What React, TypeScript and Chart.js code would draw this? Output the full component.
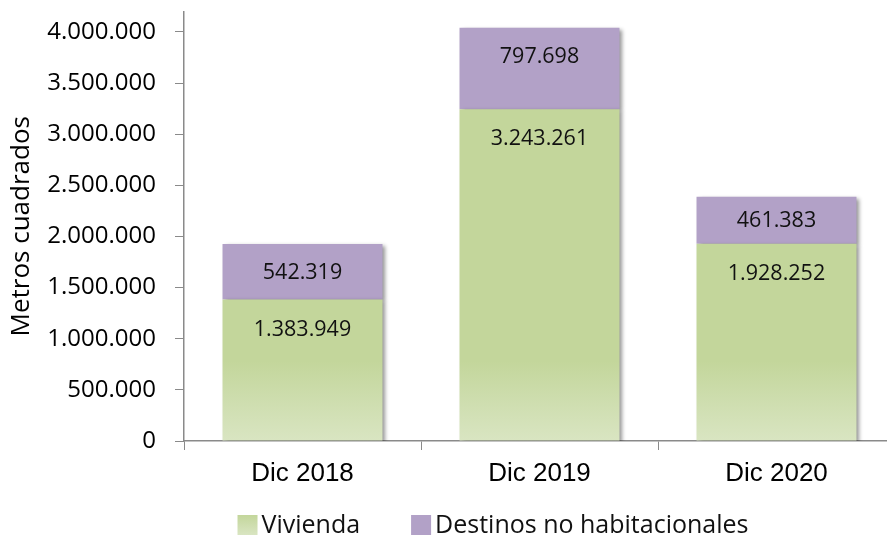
import React, { useEffect, useRef } from "react";
import { Chart, registerables } from "chart.js";

Chart.register(...registerables);

const categories = ["Dic 2018", "Dic 2019", "Dic 2020"];
const viviendaValues = [1383949, 3243261, 1928252];
const noHabitacionalesValues = [542319, 797698, 461383];
const seriesNames = ["Vivienda", "Destinos no habitacionales"];
const yAxisTitle = "Metros cuadrados";
const yMax = 4200000;
const yStep = 500000;
const yTickMax = 4000000;

const GREEN = "#c3d69b";
const GREEN_LIGHT = "#d9e5c2";
const PURPLE = "#b2a1c7";
const AXIS = "#8a8a8a";

const fmt = (v: number) =>
  String(Math.round(v)).replace(/\B(?=(\d{3})+(?!\d))/g, ".");

function greenGradient(chart: any) {
  const area = chart.chartArea;
  if (!area) return GREEN;
  const g = chart.ctx.createLinearGradient(0, area.bottom - 80, 0, area.bottom);
  g.addColorStop(0, GREEN);
  g.addColorStop(1, GREEN_LIGHT);
  return g;
}

const barPlugin = {
  id: "barDecor",
  beforeDatasetsDraw(chart: any) {
    const ctx = chart.ctx;
    ctx.save();
    ctx.shadowColor = "rgba(0,0,0,0.42)";
    ctx.shadowBlur = 4;
    ctx.shadowOffsetX = 3;
    ctx.shadowOffsetY = 2;
  },
  afterDatasetsDraw(chart: any) {
    const ctx = chart.ctx;
    ctx.restore();
    ctx.save();
    ctx.font = '21.5px "Open Sans"';
    ctx.fillStyle = "#111";
    ctx.textAlign = "center";
    ctx.textBaseline = "middle";
    chart.data.datasets.forEach((ds: any, di: number) => {
      const meta = chart.getDatasetMeta(di);
      meta.data.forEach((el: any, i: number) => {
        const { x, y, base } = el.getProps(["x", "y", "base"], true);
        const h = base - y;
        const cy = di === 0 ? y + 30 : y + Math.min(29, h / 2 + 1);
        ctx.fillText(fmt(ds.data[i]), x, cy);
      });
    });
    ctx.restore();
  },
  afterDraw(chart: any) {
    const ctx = chart.ctx;
    ctx.save();
    ctx.font = '25px "Open Sans"';
    ctx.textBaseline = "middle";
    ctx.textAlign = "left";
    const box = 20;
    const gapText = 4;
    const gapItem = 51;
    const items = chart.data.datasets.map((ds: any) => ({
      label: ds.label,
      w: ctx.measureText(ds.label).width,
    }));
    let total = 0;
    items.forEach((it: any, i: number) => {
      total += box + gapText + it.w + (i < items.length - 1 ? gapItem : 0);
    });
    let x = 493 - total / 2;
    const cy = 525;
    items.forEach((it: any, i: number) => {
      if (i === 0) {
        const g = ctx.createLinearGradient(0, cy - box / 2, 0, cy + box / 2);
        g.addColorStop(0, GREEN);
        g.addColorStop(1, GREEN_LIGHT);
        ctx.fillStyle = g;
      } else {
        ctx.fillStyle = PURPLE;
      }
      ctx.fillRect(x, cy - box / 2, box, box);
      ctx.fillStyle = "#111";
      ctx.fillText(it.label, x + box + gapText, cy + 1);
      x += box + gapText + it.w + gapItem;
    });
    ctx.restore();
  },
};

export default function App() {
  const ref = useRef<HTMLCanvasElement>(null);

  useEffect(() => {
    if (!ref.current) return;
    const chart = new Chart(ref.current, {
      type: "bar",
      data: {
        labels: categories,
        datasets: [
          {
            label: seriesNames[0],
            data: viviendaValues,
            backgroundColor: (c: any) => greenGradient(c.chart),
            borderWidth: 0,
            barPercentage: 0.9,
            categoryPercentage: 0.75,
          },
          {
            label: seriesNames[1],
            data: noHabitacionalesValues,
            backgroundColor: PURPLE,
            borderWidth: 0,
            barPercentage: 0.9,
            categoryPercentage: 0.75,
          },
        ],
      },
      options: {
        animation: false,
        responsive: false,
        maintainAspectRatio: false,
        layout: { padding: { top: 11.5, right: 5, left: 0, bottom: 0 } },
        plugins: {
          legend: { display: false },
          tooltip: { enabled: false },
          title: { display: false },
        },
        scales: {
          x: {
            stacked: true,
            offset: true,
            grid: {
              display: true,
              drawOnChartArea: false,
              drawTicks: true,
              tickLength: 9,
              offset: true,
              color: AXIS,
              lineWidth: 1,
            },
            border: { display: true, color: AXIS, width: 1.5 },
            ticks: {
              color: "#000",
              font: { family: '"Liberation Sans"', size: 26 },
              padding: 8,
              maxRotation: 0,
            },
            afterFit: (scale: any) => {
              scale.height = 101;
              scale.paddingLeft = 0;
              scale.paddingRight = 0;
            },
          },
          y: {
            stacked: true,
            min: 0,
            max: yMax,
            grid: {
              display: true,
              drawOnChartArea: false,
              drawTicks: true,
              tickLength: 9,
              color: AXIS,
              lineWidth: 1,
            },
            border: { display: true, color: AXIS, width: 1.5 },
            ticks: {
              autoSkip: false,
              color: "#000",
              font: { family: '"Open Sans"', size: 24 },
              padding: 19,
              callback: (v: any) => fmt(Number(v)),
            },
            afterBuildTicks: (scale: any) => {
              const t: any[] = [];
              for (let v = 0; v <= yTickMax; v += yStep) t.push({ value: v });
              scale.ticks = t;
            },
            title: {
              display: true,
              text: yAxisTitle,
              color: "#000",
              font: { family: '"Open Sans"', size: 26 },
              padding: { top: 6, bottom: 0 },
            },
            afterFit: (scale: any) => {
              scale.width = 184;
              scale.paddingTop = 0;
              scale.paddingBottom = 0;
            },
          },
        },
      },
      plugins: [barPlugin],
    });
    return () => chart.destroy();
  }, []);

  return (
    <div
      style={{
        position: "fixed",
        left: 0,
        top: 0,
        width: 887,
        height: 542,
        overflow: "hidden",
        background: "#fff",
      }}
    >
      <canvas ref={ref} width={900} height={542} style={{ display: "block" }} />
    </div>
  );
}
